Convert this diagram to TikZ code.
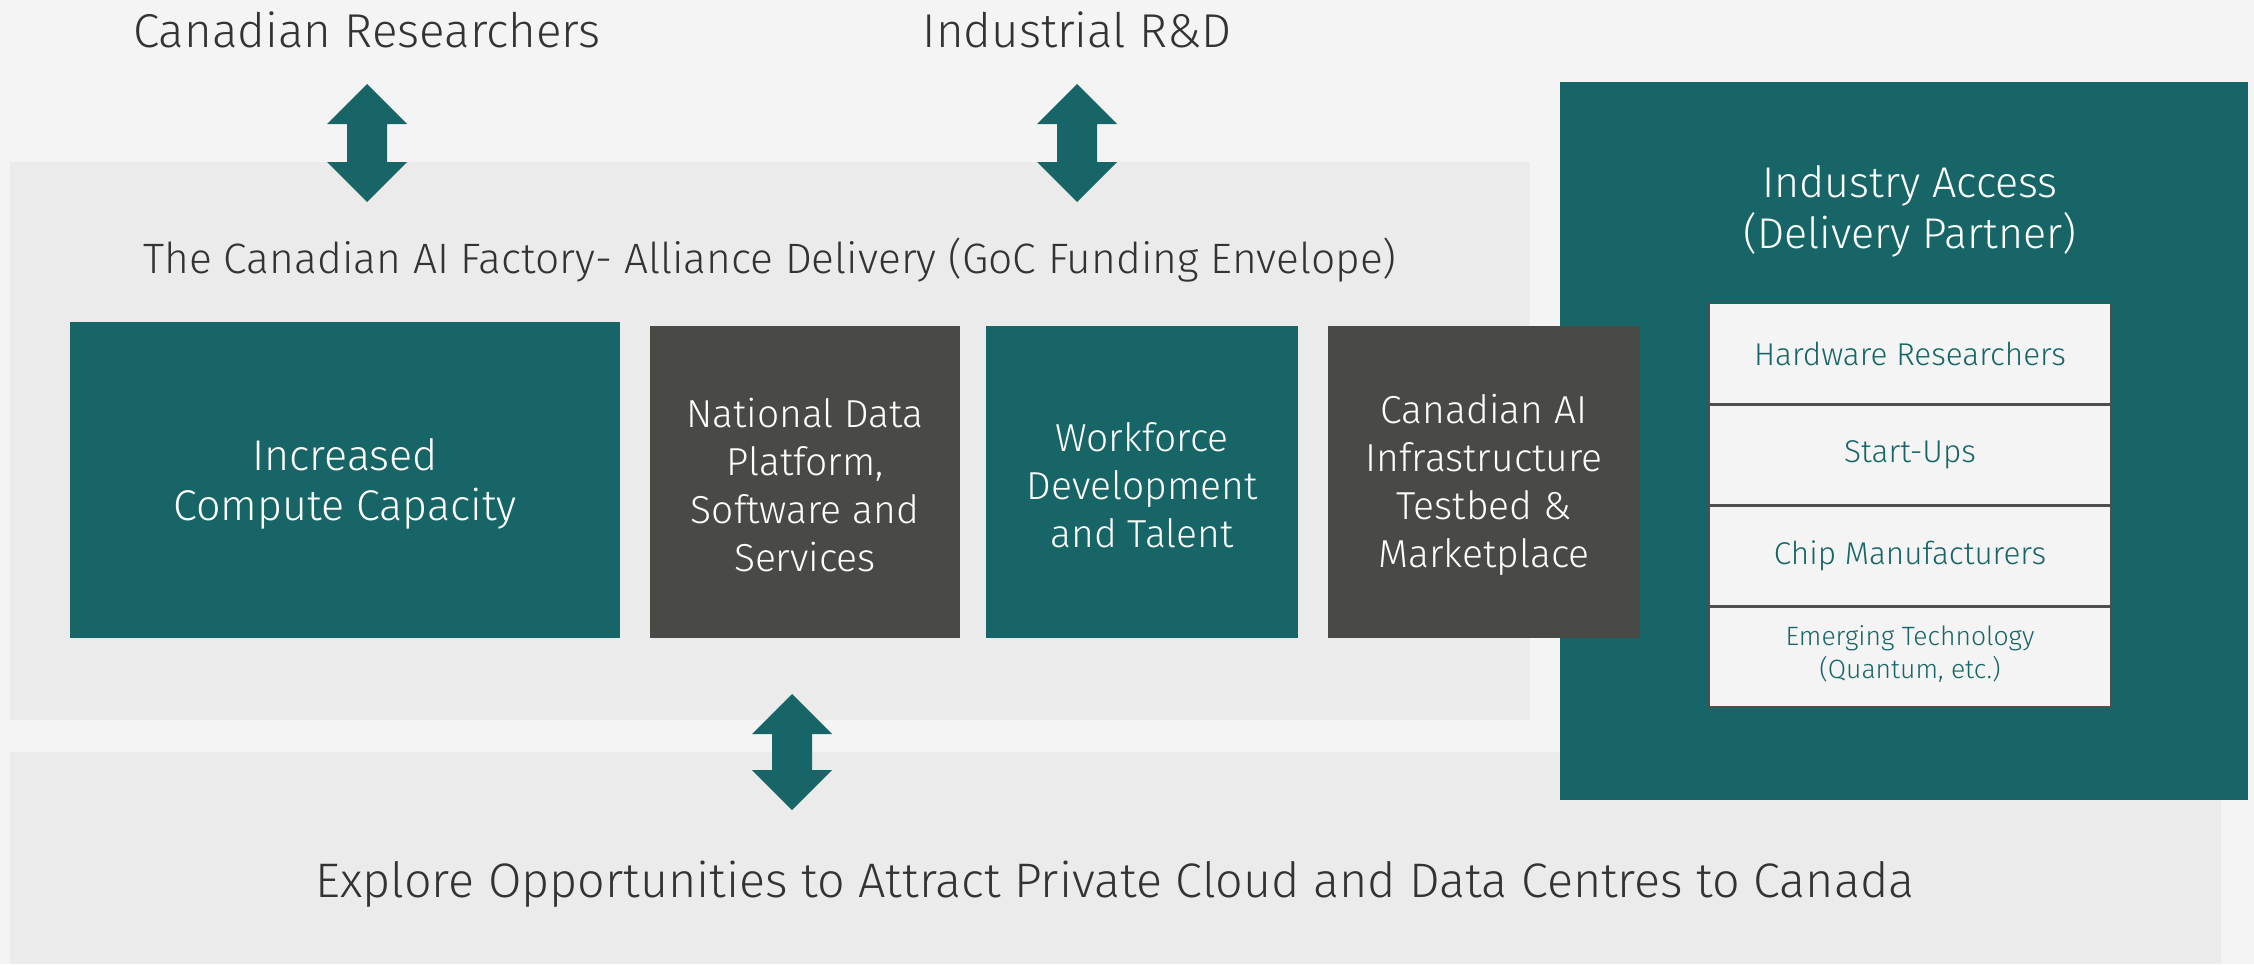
\documentclass[tikz,border=0pt]{standalone}
\usepackage{fontspec}
\setmainfont{Fira Sans Light}
\definecolor{bgc}{HTML}{F4F4F4}
\definecolor{panelc}{HTML}{EBEBEB}
\definecolor{tealc}{HTML}{176567}
\definecolor{darkc}{HTML}{494945}
\definecolor{txtc}{HTML}{333333}
\definecolor{linec}{HTML}{4E4E4E}
\newcommand\fsz[2]{\fontsize{#1}{#2}\selectfont}
\newcommand\tealdblarrow[3]{%
  \fill[tealc] (#1,#2) -- (#1+40,#2+40) -- (#1+20,#2+40) -- (#1+20,#3-40) -- (#1+40,#3-40)
  -- (#1,#3) -- (#1-40,#3-40) -- (#1-20,#3-40) -- (#1-20,#2+40) -- (#1-40,#2+40) -- cycle;}
\begin{document}
\begin{tikzpicture}[x=1pt,y=-1pt,
  panel/.style={fill=panelc, draw=none, anchor=north west, inner sep=0pt},
  tealbox/.style={fill=tealc, inner sep=0pt},
  darkbox/.style={fill=darkc, inner sep=0pt},
  boxtxt/.style={text=white, align=center, inner sep=0pt, font=\fsz{39}{48}},
  headtxt/.style={text=txtc, anchor=base, inner sep=0pt},
  listrow/.style={fill=bgc, draw=linec, line width=1.4pt, text=tealc, align=center,
    minimum width=402, minimum height=99.75, inner sep=0pt, anchor=north, font=\fsz{31.5}{38}}]
\useasboundingbox (0,0) rectangle (2254,964);
\fill[bgc] (0,0) rectangle (2254,964);
% panels
\node[panel, minimum width=1520, minimum height=558] (mid) at (10,162) {};
\node[panel, minimum width=2211, minimum height=212] (bot) at (10,752) {};
\node[panel, fill=tealc, minimum width=688, minimum height=718] (ind) at (1560,82) {};
% header texts
\node[headtxt, font=\fsz{47.5}{58}] (res) at (367,47) {Canadian Researchers};
\node[headtxt, font=\fsz{47.5}{58}] (rnd) at (1077,47) {Industrial R\&D};
\node[headtxt, font=\fsz{42.5}{52}] (title) at (770,273) {The Canadian AI Factory- Alliance Delivery (GoC Funding Envelope)};
% arrows
\tealdblarrow{367}{84}{202}
\tealdblarrow{1077}{84}{202}
\tealdblarrow{792}{694}{810}
% boxes
\node[tealbox, minimum width=550, minimum height=316] (b1) at (345,480) {};
\node[boxtxt, font=\fsz{43}{50}] (b1t) at ([yshift=-4]b1.center) {Increased\\Compute Capacity};
\node[darkbox, minimum width=310, minimum height=312] (b2) at (805,482) {};
\node[boxtxt] (b2t) at ([yshift=-3]b2.center) {National Data\\Platform,\\Software and\\Services};
\node[tealbox, minimum width=312, minimum height=312] (b3) at (1142,482) {};
\node[boxtxt] (b3t) at ([yshift=-3]b3.center) {Workforce\\Development\\and Talent};
\node[darkbox, minimum width=312, minimum height=312] (b4) at (1484,482) {};
\node[boxtxt] (b4t) at ([yshift=-3]b4.center) {Canadian AI\\Infrastructure\\Testbed \&\\Marketplace};
% industry access
\node[text=white, align=center, font=\fsz{43}{51}] (ia) at (1910,211) {Industry Access\\(Delivery Partner)};
\node[listrow] (r1) at (1910,303) {Hardware Researchers};
\node[listrow] (r2) at (r1.south) {Start-Ups};
\node[listrow] (r3) at (r2.south) {Chip Manufacturers};
\node[listrow, font=\fsz{26.5}{33}] (r4) at (r3.south) {\raisebox{0pt}{}Emerging Technology\\(Quantum, etc.)\vspace{6pt}};
% bottom
\node[headtxt, font=\fsz{48.5}{58}] (explore) at (1115,897) {Explore Opportunities to Attract Private Cloud and Data Centres to Canada};
\end{tikzpicture}
\end{document}
